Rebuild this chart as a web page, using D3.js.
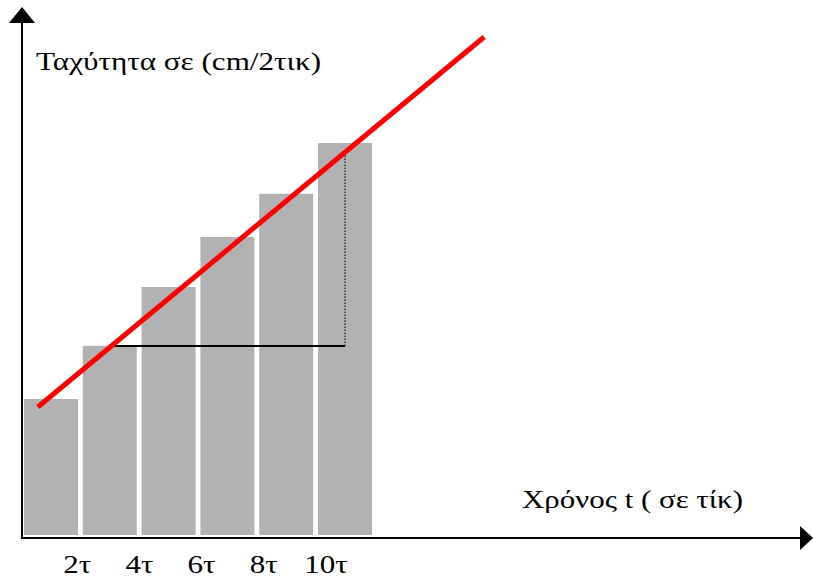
<!DOCTYPE html>
<html>
<head>
<meta charset="utf-8">
<script src="https://cdn.jsdelivr.net/npm/d3@7"></script>
<style>
  body { margin: 0; background: #fff; }
</style>
</head>
<body>
<div id="chart"></div>
<script>
var width = 813, height = 581;
var serif = "'Liberation Serif', 'Times New Roman', serif";

// bars: speed for each 2τ interval
var intervals = ["0-2τ", "2-4τ", "4-6τ", "6-8τ", "8-10τ", "10-12τ"];
var speeds = [3.4, 4.73, 6.2, 7.45, 8.53, 9.8];

// tick labels on the time axis (in units of τ)
var tickValues = [2, 4, 6, 8, 10];
var tickLabels = ["2τ", "4τ", "6τ", "8τ", "10τ"];

// red trend line (t in τ, speed)
var fitLine = [{t: 0.75, v: 3.2}, {t: 15.1, v: 12.45}];
// horizontal black segment and dotted vertical (slope triangle)
var stepRun = [{t: 3.17, v: 4.725}, {t: 10.63, v: 4.725}];
var stepRise = [{t: 10.63, v: 4.725}, {t: 10.63, v: 9.52}];

var yTitle = "Ταχύτητα σε (cm/2τικ)";
var xTitle = "Χρόνος t ( σε τίκ)";

var svg = d3.select("#chart")
  .append("svg")
    .attr("width", width)
    .attr("height", height);

var x0 = 22, yBase = 538;

var xBand = d3.scaleBand()
  .domain(intervals)
  .range([24, 372])
  .paddingInner(0.082)
  .paddingOuter(0);

var t = d3.scaleLinear()
  .domain([0, 12])
  .range([14.5, 387.7]);

var y = d3.scaleLinear()
  .domain([0, 10])
  .range([535, 135]);

// bars
svg.append("g")
  .selectAll("rect")
  .data(speeds)
  .enter()
  .append("rect")
    .attr("x", function(d, i) { return xBand(intervals[i]); })
    .attr("y", function(d) { return y(d); })
    .attr("width", xBand.bandwidth())
    .attr("height", function(d) { return y(0) - y(d); })
    .style("fill", "#b2b2b2");

var line = d3.line()
  .x(function(d) { return t(d.t); })
  .y(function(d) { return y(d.v); });

// slope triangle
svg.append("path")
  .datum(stepRun)
  .attr("d", line)
  .style("stroke", "#000")
  .style("stroke-width", 2)
  .style("fill", "none");

svg.append("path")
  .datum(stepRise)
  .attr("d", line)
  .style("stroke", "#333")
  .style("stroke-width", 1.5)
  .style("stroke-dasharray", "1.5,1.5")
  .style("fill", "none");

// trend line
svg.append("path")
  .datum(fitLine)
  .attr("d", line)
  .style("stroke", "#ff0000")
  .style("stroke-width", 5)
  .style("fill", "none");

// axes with arrowheads
svg.append("line")
  .attr("x1", x0).attr("y1", yBase + 1)
  .attr("x2", x0).attr("y2", 20)
  .style("stroke", "#000").style("stroke-width", 2);
svg.append("path")
  .attr("d", "M" + x0 + ",7 L" + (x0 + 13) + ",23 L" + (x0 - 13) + ",23 Z")
  .style("fill", "#000");

svg.append("line")
  .attr("x1", x0 - 1).attr("y1", yBase)
  .attr("x2", 802).attr("y2", yBase)
  .style("stroke", "#000").style("stroke-width", 2);
svg.append("path")
  .attr("d", "M813," + yBase + " L800," + (yBase - 12) + " L800," + (yBase + 12) + " Z")
  .style("fill", "#000");

// tick labels (the original text is a little wide, so stretch it)
var xAxis = svg.append("g")
  .attr("transform", "translate(0," + (yBase + 14) + ")")
  .call(d3.axisBottom(t)
    .tickValues(tickValues)
    .tickSize(0)
    .tickFormat(function(d, i) { return tickLabels[i]; }));
xAxis.select(".domain").remove();
xAxis.selectAll("text")
  .attr("transform", "scale(1.24,1)")
  .style("font-family", serif)
  .style("font-size", "25px")
  .style("fill", "#000");

// titles
svg.append("text")
  .attr("x", 36)
  .attr("y", 70)
  .attr("textLength", 285)
  .attr("lengthAdjust", "spacingAndGlyphs")
  .style("font-family", serif)
  .style("font-size", "25px")
  .text(yTitle);

svg.append("text")
  .attr("x", 522)
  .attr("y", 508)
  .attr("textLength", 221)
  .attr("lengthAdjust", "spacingAndGlyphs")
  .style("font-family", serif)
  .style("font-size", "25px")
  .text(xTitle);
</script>
</body>
</html>
